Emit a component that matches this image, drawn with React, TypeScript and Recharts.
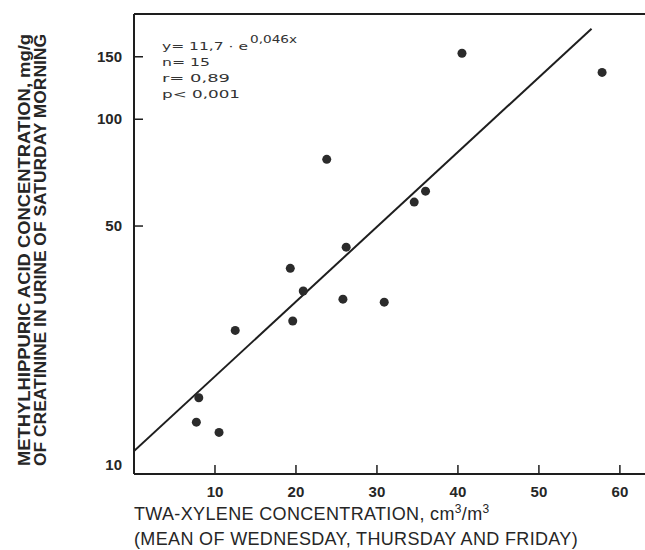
import { ScatterChart, Scatter, XAxis, YAxis, ReferenceLine } from "recharts";

// values
const xylene = [7.7, 8.0, 10.5, 12.5, 19.6, 19.3, 20.9, 25.8, 26.2, 23.8, 30.9, 34.6, 36.0, 40.5, 57.8];
const hippuric = [14.0, 16.4, 13.1, 25.4, 27.0, 38.0, 32.8, 31.1, 43.6, 77.1, 30.5, 58.4, 62.7, 153.5, 135.5];
const fitX = [0, 56.5];
const fitY = [11.6, 180];
const xTicks = [10, 20, 30, 40, 50, 60];
const yTicks = [10, 50, 100, 150];
const xDomain = [0, 63.1];
const yDomain = [10, 198];

const W = 645;
const H = 550;
const LEFT = 134;
const TOP = 14;
const BOTTOM = 474;
const INK = "#1e1e1e";
const TEXT = "#262626";
const SANS = "'Liberation Sans', Arial, sans-serif";

const points = xylene.map((x, i) => ({ x, y: hippuric[i] }));
const fit = fitX.map((x, i) => ({ x, y: fitY[i] }));

function XTick({ x, payload }: any) {
  return (
    <g>
      <line x1={x} x2={x} y1={BOTTOM} y2={BOTTOM - 9} stroke={INK} strokeWidth={1.5} />
      <text x={x} y={497} textAnchor="middle" fontFamily={SANS} fontWeight="bold" fontSize={15} fill={TEXT}>
        {payload.value}
      </text>
    </g>
  );
}

function YTick({ y, payload }: any) {
  const ty = Math.min(y, BOTTOM - 9);
  return (
    <g>
      <line x1={LEFT} x2={LEFT + 9} y1={y} y2={y} stroke={INK} strokeWidth={1.5} />
      <text x={122} y={ty + 5} textAnchor="end" fontFamily={SANS} fontWeight="bold" fontSize={15} fill={TEXT}>
        {payload.value}
      </text>
    </g>
  );
}

function YTitle() {
  return (
    <text transform="translate(30, 250) rotate(-90)" textAnchor="middle" fontFamily={SANS} fontWeight="bold" fontSize={17} fill={TEXT}>
      <tspan x={0} y={0} textLength={432} lengthAdjust="spacingAndGlyphs">
        METHYLHIPPURIC ACID CONCENTRATION, mg/g
      </tspan>
      <tspan x={0} y={16} textLength={432} lengthAdjust="spacingAndGlyphs">
        OF CREATININE IN URINE OF SATURDAY MORNING
      </tspan>
    </text>
  );
}

function XTitle() {
  return (
    <g fontFamily={SANS} fontSize={18} fill={TEXT} letterSpacing={0.35}>
      <text x={LEFT} y={520}>
        TWA-XYLENE CONCENTRATION, cm
        <tspan dy={-7} fontSize={12}>3</tspan>
        <tspan dy={7}>/m</tspan>
        <tspan dy={-7} fontSize={12}>3</tspan>
      </text>
      <text x={LEFT} y={545}>(MEAN OF WEDNESDAY, THURSDAY AND FRIDAY)</text>
    </g>
  );
}

function Stats() {
  const f = "'DejaVu Sans', sans-serif";
  return (
    <svg width={W} height={H} style={{ position: "absolute", left: 0, top: 0, pointerEvents: "none" }}>
      <g fontFamily={f} fontSize={11} fill="#333">
        <text x={162} y={50} textLength={86} lengthAdjust="spacingAndGlyphs">y= 11,7 · e</text>
        <text x={250} y={43} fontSize={10} textLength={47} lengthAdjust="spacingAndGlyphs">0,046x</text>
        <text x={162} y={66} textLength={48} lengthAdjust="spacingAndGlyphs">n= 15</text>
        <text x={162} y={82} textLength={68} lengthAdjust="spacingAndGlyphs">r= 0,89</text>
        <text x={162} y={98} textLength={78} lengthAdjust="spacingAndGlyphs">p&lt; 0,001</text>
      </g>
    </svg>
  );
}

export default function App() {
  return (
    <div style={{ position: "absolute", left: 0, top: 0, width: W, height: H, background: "#fff" }}>
      <ScatterChart width={W} height={H} margin={{ top: TOP, right: 0, bottom: 0, left: 0 }}>
        <XAxis
          type="number"
          dataKey="x"
          domain={xDomain}
          ticks={xTicks}
          allowDataOverflow
          height={H - BOTTOM}
          tickLine={false}
          tick={<XTick />}
          axisLine={{ stroke: INK, strokeWidth: 2 }}
          label={<XTitle />}
        />
        <YAxis
          type="number"
          dataKey="y"
          scale="log"
          domain={yDomain}
          ticks={yTicks}
          allowDataOverflow
          width={LEFT}
          tickLine={false}
          tick={<YTick />}
          axisLine={{ stroke: INK, strokeWidth: 2 }}
          label={<YTitle />}
        />
        <ReferenceLine y={yDomain[1]} stroke={INK} strokeWidth={2} />
        <Scatter
          data={fit}
          line={{ stroke: INK, strokeWidth: 2 }}
          shape={() => <g />}
          isAnimationActive={false}
        />
        <Scatter
          data={points}
          shape={(p: any) => <circle cx={p.cx} cy={p.cy} r={4.5} fill="#2b2b2b" />}
          isAnimationActive={false}
        />
      </ScatterChart>
      <Stats />
    </div>
  );
}
